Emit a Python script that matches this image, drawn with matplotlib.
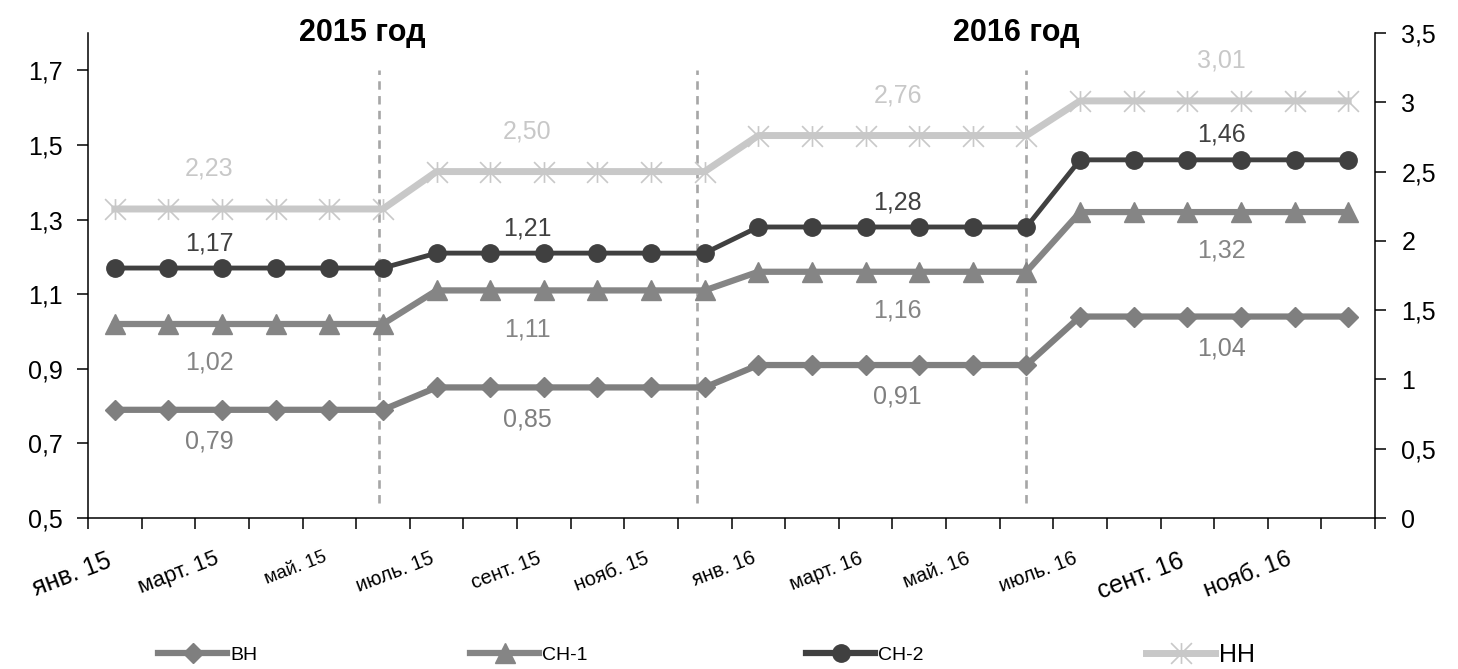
import numpy as np
import matplotlib
matplotlib.use('Agg')
import matplotlib.pyplot as plt
from matplotlib.path import Path
from matplotlib.lines import Line2D
from matplotlib.transforms import blended_transform_factory

plt.rcParams['font.family'] = ['Liberation Sans Narrow', 'Liberation Sans', 'DejaVu Sans']

# месяцы 2015-2016
months = ['янв. 15', 'февр. 15', 'март. 15', 'апр. 15', 'май. 15', 'июнь. 15',
          'июль. 15', 'авг. 15', 'сент. 15', 'окт. 15', 'нояб. 15', 'дек. 15',
          'янв. 16', 'февр. 16', 'март. 16', 'апр. 16', 'май. 16', 'июнь. 16',
          'июль. 16', 'авг. 16', 'сент. 16', 'окт. 16', 'нояб. 16', 'дек. 16']
tick_labels = months[::2]
tick_sizes = [18, 16, 13.5, 14.5, 14.5, 14.5, 14.5, 14.5, 14.5, 14.5, 18, 17]

vn = [0.79, 0.79, 0.79, 0.79, 0.79, 0.79, 0.85, 0.85, 0.85, 0.85, 0.85, 0.85,
      0.91, 0.91, 0.91, 0.91, 0.91, 0.91, 1.04, 1.04, 1.04, 1.04, 1.04, 1.04]
sn1 = [1.02, 1.02, 1.02, 1.02, 1.02, 1.02, 1.11, 1.11, 1.11, 1.11, 1.11, 1.11,
       1.16, 1.16, 1.16, 1.16, 1.16, 1.16, 1.32, 1.32, 1.32, 1.32, 1.32, 1.32]
sn2 = [1.17, 1.17, 1.17, 1.17, 1.17, 1.17, 1.21, 1.21, 1.21, 1.21, 1.21, 1.21,
       1.28, 1.28, 1.28, 1.28, 1.28, 1.28, 1.46, 1.46, 1.46, 1.46, 1.46, 1.46]
nn = [2.23, 2.23, 2.23, 2.23, 2.23, 2.23, 2.50, 2.50, 2.50, 2.50, 2.50, 2.50,
      2.76, 2.76, 2.76, 2.76, 2.76, 2.76, 3.01, 3.01, 3.01, 3.01, 3.01, 3.01]

label_x = [1.76, 7.69, 14.6, 20.64]
separators = [4.92, 10.85, 17.0]
years = ['2015 год', '2016 год']
years_x = [4.61, 16.81]


def comma(v, nd=2):
    return f'{v:.{nd}f}'.replace('.', ',')


def tick_fmt(v):
    s = f'{v:g}'
    return s.replace('.', ',')


star = Path([(0, -1), (0, 1), (-1, -1), (1, 1), (-1, 1), (1, -1)],
            [Path.MOVETO, Path.LINETO, Path.MOVETO, Path.LINETO, Path.MOVETO, Path.LINETO])

fig = plt.figure(figsize=(14.58, 6.69), dpi=100)
ax = fig.add_axes([88/1458, 1-518/669, (1375-88)/1458, (518-33)/669])
ax2 = ax.twinx()

x = np.arange(len(months))

c_vn = '#7f7f7f'
c_sn1 = '#858585'
c_sn2 = '#404040'
c_nn = '#c8c8c8'

for s in separators:
    ax.plot([s, s], [0.54, 1.70], color='#a6a6a6', lw=1.9, dashes=(3.2, 2.4), zorder=1)

l_vn, = ax.plot(x, vn, color=c_vn, lw=4.5, marker='D', ms=10.5, mec=c_vn, zorder=3)
l_sn1, = ax.plot(x, sn1, color=c_sn1, lw=4.5, marker='^', ms=15, mec=c_sn1, zorder=3)
l_sn2, = ax.plot(x, sn2, color=c_sn2, lw=3.5, marker='o', ms=12.5, mec=c_sn2, zorder=4)
l_nn, = ax2.plot(x, nn, color=c_nn, lw=5, marker=star, ms=15, mew=1.2, mec=c_nn, zorder=3)

# подписи значений
for p in label_x:
    i = int(round(p))
    ax.annotate(comma(vn[i]), (p, vn[i]), xytext=(0, -23), textcoords='offset points',
                ha='center', va='center', fontsize=18, color=c_vn)
    ax.annotate(comma(sn1[i]), (p, sn1[i]), xytext=(0, -28), textcoords='offset points',
                ha='center', va='center', fontsize=18, color=c_sn1)
    ax.annotate(comma(sn2[i]), (p, sn2[i]), xytext=(0, 18), textcoords='offset points',
                ha='center', va='center', fontsize=18, color=c_sn2)
    ax2.annotate(comma(nn[i]), (p, nn[i]), xytext=(0, 29), textcoords='offset points',
                 ha='center', va='center', fontsize=18, color=c_nn)

ax.set_xlim(-0.5, 23.5)
ax.set_ylim(0.5, 1.8)
ax2.set_ylim(0, 3.5)

lt = np.arange(0.5, 1.71, 0.2)
ax.set_yticks(lt)
ax.set_yticklabels([tick_fmt(round(v, 1)) for v in lt])
rt = np.arange(0, 3.51, 0.5)
ax2.set_yticks(rt)
ax2.set_yticklabels([tick_fmt(v) for v in rt])

ax.set_xticks(x[::2])
ax.set_xticklabels(tick_labels, rotation=21, ha='right', va='top')
for t, fs in zip(ax.get_xticklabels(), tick_sizes):
    t.set_fontsize(fs)
ax.set_xticks(np.arange(-0.5, 23.6, 1), minor=True)
ax.tick_params(axis='x', which='major', length=0, pad=22)
ax.tick_params(axis='x', which='minor', length=8, width=1.1, direction='out')
ax.tick_params(axis='y', length=8, width=1.1, labelsize=18, pad=10)
ax2.tick_params(axis='y', length=8, width=1.1, labelsize=18, pad=11)

for a in (ax, ax2):
    a.spines['top'].set_visible(False)
    for sp in ('left', 'right', 'bottom'):
        a.spines[sp].set_linewidth(1.1)
ax.spines['right'].set_visible(False)
ax2.spines['left'].set_visible(False)
ax2.spines['bottom'].set_visible(False)

tr = blended_transform_factory(ax.transData, ax.transAxes)
for yx, yt in zip(years_x, years):
    ax.text(yx, 1.0, yt, transform=tr, ha='center', va='center',
            fontsize=22, fontweight='bold')

# легенда
handles = [
    (Line2D([], [], color=c_vn, lw=4.5, marker='D', ms=10.5, mec=c_vn), 'ВН', 14, 158),
    (Line2D([], [], color=c_sn1, lw=4.5, marker='^', ms=15, mec=c_sn1), 'СН-1', 14, 470),
    (Line2D([], [], color=c_sn2, lw=4.5, marker='o', ms=12.5, mec=c_sn2), 'СН-2', 14, 806),
    (Line2D([], [], color=c_nn, lw=5, marker=star, ms=15, mew=1.2, mec=c_nn), 'НН', 18, 1146),
]
for h, lab, fs, px in handles:
    fig.legend([h], [lab], loc='center left', bbox_to_anchor=(px/1458, 1-655/669),
               frameon=False, fontsize=fs, handlelength=50/fs, handletextpad=0.15,
               borderpad=0, borderaxespad=0, numpoints=1)

fig.savefig('out.png', dpi=100, facecolor='white')
